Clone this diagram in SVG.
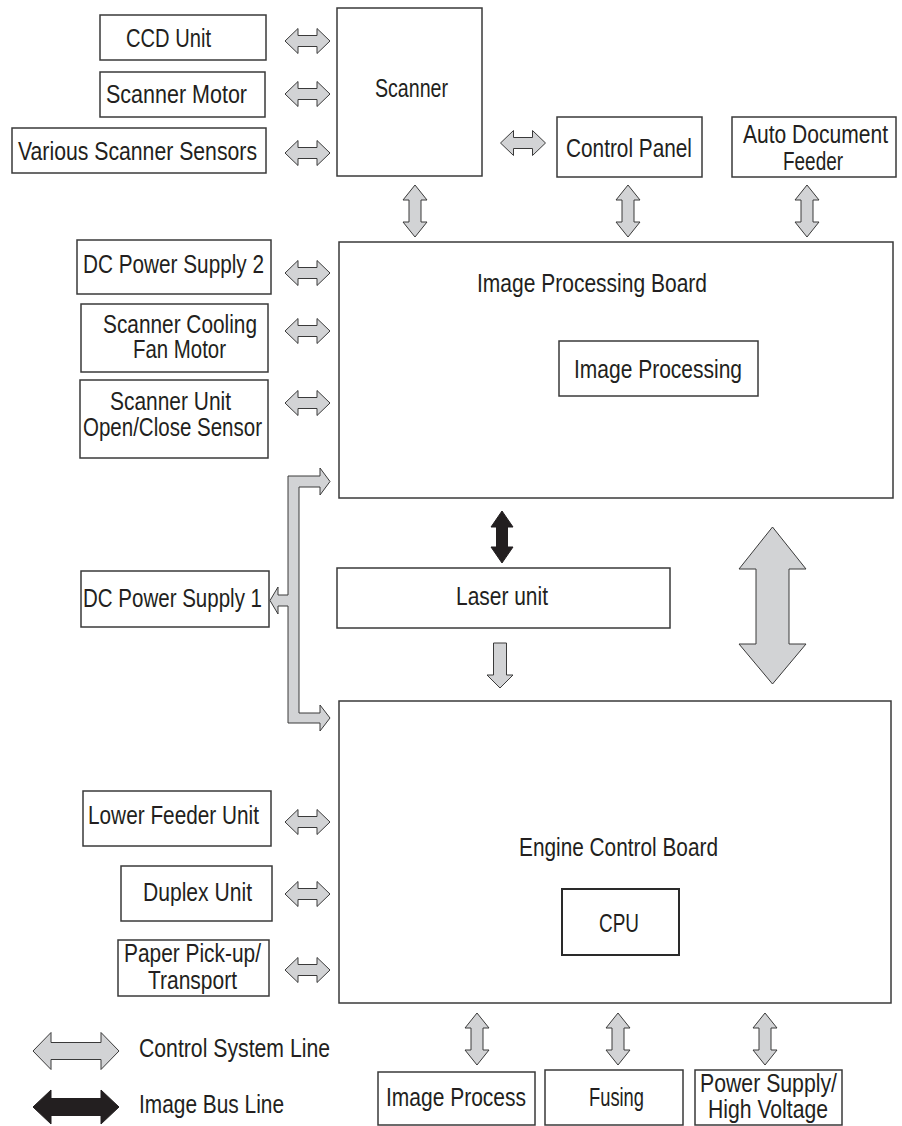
<svg xmlns="http://www.w3.org/2000/svg" xmlns:xlink="http://www.w3.org/1999/xlink" width="902" height="1126" viewBox="0 0 902 1126">
<style>
.box{fill:#fff;stroke:#3a3a3a;stroke-width:1.5}
.cpu{fill:#fff;stroke:#2a2a2a;stroke-width:2}
.t{font-family:"Liberation Sans",Arial,sans-serif;font-size:25px;fill:#231f20;text-anchor:middle}
.tl{font-family:"Liberation Sans",Arial,sans-serif;font-size:25px;fill:#231f20;text-anchor:start}
.ga{fill:#d2d3d5;stroke:#3a3a3a;stroke-width:1;stroke-linejoin:miter}
.ba{fill:#231f20;stroke:#231f20;stroke-width:1}
</style>
<defs>
<path id="ha" d="M-22.5,0 L-9.5,-12.5 L-9.5,-5.5 L9.5,-5.5 L9.5,-12.5 L22.5,0 L9.5,12.5 L9.5,5.5 L-9.5,5.5 L-9.5,12.5 Z"/>
<path id="va" d="M0,-26 L12,-11 L6,-11 L6,11 L12,11 L0,26 L-12,11 L-6,11 L-6,-11 L-12,-11 Z"/>
</defs>
<rect width="902" height="1126" fill="#fff"/>

<g id="connectors">
<use xlink:href="#ha" class="ga" x="307.5" y="41"/>
<use xlink:href="#ha" class="ga" x="307.5" y="94"/>
<use xlink:href="#ha" class="ga" x="307.5" y="153"/>
<use xlink:href="#ha" class="ga" x="523" y="143"/>
<use xlink:href="#ha" class="ga" x="307.5" y="273"/>
<use xlink:href="#ha" class="ga" x="307.5" y="331"/>
<use xlink:href="#ha" class="ga" x="307.5" y="403"/>
<use xlink:href="#ha" class="ga" x="307.5" y="822"/>
<use xlink:href="#ha" class="ga" x="307.5" y="894"/>
<use xlink:href="#ha" class="ga" x="307.5" y="970"/>
<use xlink:href="#va" class="ga" x="415" y="211"/>
<use xlink:href="#va" class="ga" x="628" y="211"/>
<use xlink:href="#va" class="ga" x="807" y="211"/>
<use xlink:href="#va" class="ga" x="477" y="1039"/>
<use xlink:href="#va" class="ga" x="618" y="1039"/>
<use xlink:href="#va" class="ga" x="765" y="1039"/>
<path class="ga" d="M288,476 L320,476 L320,468 L330,481.5 L320,495 L320,487 L299,487 L299,713 L320,713 L320,705 L330,718 L320,731 L320,723 L288,723 L288,606 L278,606 L278,614 L270,600.5 L278,587 L278,595 L288,595 Z"/>
<path class="ba" d="M502,511 L513,527 L507.5,527 L507.5,547 L513,547 L502,563 L491,547 L496.5,547 L496.5,527 L491,527 Z"/>
<path class="ga" d="M493.5,643 L506.5,643 L506.5,675 L513,675 L500,688 L487,675 L493.5,675 Z"/>
<path class="ga" d="M772.5,527 L806,569 L789,569 L789,644 L806,644 L772.5,684 L739,644 L756,644 L756,569 L739,569 Z"/>
</g>

<g id="ccd-unit"><rect class="box" x="100" y="15" width="166" height="45"/><text class="t" x="168.5" y="47" textLength="85" lengthAdjust="spacingAndGlyphs">CCD Unit</text></g>
<g id="scanner-motor"><rect class="box" x="100" y="72" width="165" height="45"/><text class="t" x="176.5" y="103" textLength="141" lengthAdjust="spacingAndGlyphs">Scanner Motor</text></g>
<g id="various-scanner-sensors"><rect class="box" x="12" y="128" width="254" height="45"/><text class="t" x="137.5" y="160" textLength="239" lengthAdjust="spacingAndGlyphs">Various Scanner Sensors</text></g>
<g id="scanner"><rect class="box" x="337" y="8" width="145" height="168"/><text class="t" x="411.5" y="97" textLength="73" lengthAdjust="spacingAndGlyphs">Scanner</text></g>
<g id="control-panel"><rect class="box" x="557" y="117" width="145" height="60"/><text class="t" x="629" y="157" textLength="126" lengthAdjust="spacingAndGlyphs">Control Panel</text></g>
<g id="auto-document-feeder"><rect class="box" x="732" y="117" width="164" height="60"/><text class="t" x="815.5" y="143" textLength="145" lengthAdjust="spacingAndGlyphs">Auto Document</text><text class="t" x="813" y="170" textLength="60" lengthAdjust="spacingAndGlyphs">Feeder</text></g>

<g id="dc-power-supply-2"><rect class="box" x="77" y="240" width="194" height="54"/><text class="t" x="173.5" y="273" textLength="181" lengthAdjust="spacingAndGlyphs">DC Power Supply 2</text></g>
<g id="scanner-cooling-fan-motor"><rect class="box" x="81" y="304" width="187" height="68"/><text class="t" x="180" y="333" textLength="154" lengthAdjust="spacingAndGlyphs">Scanner Cooling</text><text class="t" x="179.5" y="358" textLength="93" lengthAdjust="spacingAndGlyphs">Fan Motor</text></g>
<g id="scanner-unit-sensor"><rect class="box" x="80" y="380" width="188" height="78"/><text class="t" x="170.5" y="410" textLength="121" lengthAdjust="spacingAndGlyphs">Scanner Unit</text><text class="t" x="172.5" y="436" textLength="179" lengthAdjust="spacingAndGlyphs">Open/Close Sensor</text></g>

<g id="image-processing-board"><rect class="box" x="339" y="242" width="554" height="256"/><text class="t" x="592" y="292" textLength="230" lengthAdjust="spacingAndGlyphs">Image Processing Board</text></g>
<g id="image-processing"><rect class="box" x="559" y="341" width="199" height="55"/><text class="t" x="658" y="378" textLength="168" lengthAdjust="spacingAndGlyphs">Image Processing</text></g>

<g id="dc-power-supply-1"><rect class="box" x="81" y="571" width="188" height="56"/><text class="t" x="172.5" y="607" textLength="179" lengthAdjust="spacingAndGlyphs">DC Power Supply 1</text></g>
<g id="laser-unit"><rect class="box" x="337" y="568" width="333" height="60"/><text class="t" x="502" y="605" textLength="92" lengthAdjust="spacingAndGlyphs">Laser unit</text></g>

<g id="engine-control-board"><rect class="box" x="339" y="701" width="552" height="302"/><text class="t" x="618.5" y="856" textLength="199" lengthAdjust="spacingAndGlyphs">Engine Control Board</text></g>
<g id="cpu"><rect class="cpu" x="562" y="889" width="117" height="66"/><text class="t" x="619" y="932" textLength="40" lengthAdjust="spacingAndGlyphs">CPU</text></g>

<g id="lower-feeder-unit"><rect class="box" x="83" y="791" width="188" height="55"/><text class="t" x="173.5" y="824" textLength="171" lengthAdjust="spacingAndGlyphs">Lower Feeder Unit</text></g>
<g id="duplex-unit"><rect class="box" x="121" y="866" width="151" height="55"/><text class="t" x="197.5" y="901" textLength="109" lengthAdjust="spacingAndGlyphs">Duplex Unit</text></g>
<g id="paper-pickup-transport"><rect class="box" x="118" y="940" width="151" height="56"/><text class="t" x="192.5" y="962" textLength="137" lengthAdjust="spacingAndGlyphs">Paper Pick-up/</text><text class="t" x="192.5" y="989" textLength="89" lengthAdjust="spacingAndGlyphs">Transport</text></g>

<g id="image-process"><rect class="box" x="378" y="1072" width="157" height="53"/><text class="t" x="456" y="1106" textLength="140" lengthAdjust="spacingAndGlyphs">Image Process</text></g>
<g id="fusing"><rect class="box" x="545" y="1070" width="138" height="55"/><text class="t" x="616.5" y="1106" textLength="55" lengthAdjust="spacingAndGlyphs">Fusing</text></g>
<g id="power-supply-high-voltage"><rect class="box" x="695" y="1070" width="147" height="55"/><text class="t" x="768.5" y="1092" textLength="137" lengthAdjust="spacingAndGlyphs">Power Supply/</text><text class="t" x="768" y="1118" textLength="120" lengthAdjust="spacingAndGlyphs">High Voltage</text></g>

<g id="legend">
<path class="ga" d="M33,1051 L51,1032.5 L51,1042.5 L101,1042.5 L101,1032.5 L119,1051 L101,1069.5 L101,1059.5 L51,1059.5 L51,1069.5 Z"/>
<text class="tl" x="139" y="1057" textLength="191" lengthAdjust="spacingAndGlyphs">Control System Line</text>
<path class="ba" d="M33,1107 L51,1090 L51,1098.5 L101,1098.5 L101,1090 L119,1107 L101,1124 L101,1115.5 L51,1115.5 L51,1124 Z"/>
<text class="tl" x="139" y="1113" textLength="145" lengthAdjust="spacingAndGlyphs">Image Bus Line</text>
</g>
</svg>
